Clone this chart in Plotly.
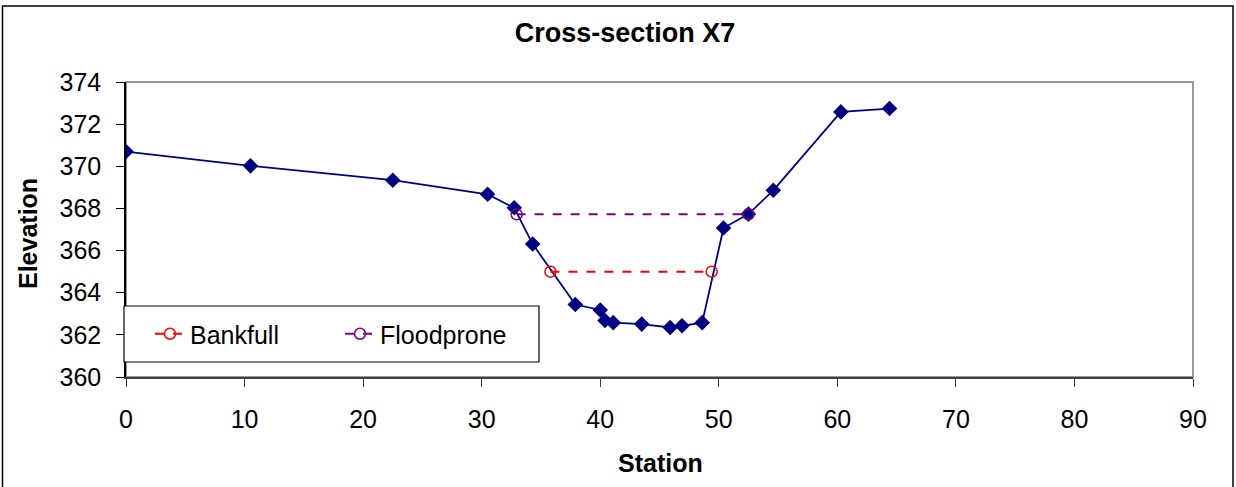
import plotly.graph_objects as go

station = [0, 10.5, 22.5, 30.5, 32.75, 34.3, 37.9, 40.0, 40.4, 41.1, 43.5, 45.9, 46.9, 48.6, 50.4, 52.5, 54.6, 60.3, 64.4]
elevation = [370.7, 370.02, 369.34, 368.67, 368.03, 366.31, 363.44, 363.18, 362.68, 362.58, 362.51, 362.35, 362.43, 362.58, 367.07, 367.73, 368.86, 372.58, 372.74]

bankfull_x = [35.8, 49.4]
bankfull_y = [365.0, 365.0]
floodprone_x = [32.95, 52.5]
floodprone_y = [367.72, 367.72]

x_ticks = [0, 10, 20, 30, 40, 50, 60, 70, 80, 90]
y_ticks = [360, 362, 364, 366, 368, 370, 372, 374]

fig = go.Figure()
fig.add_trace(go.Scatter(
    x=station, y=elevation, mode="lines+markers", showlegend=False,
    line=dict(color="#000080", width=1.8),
    marker=dict(symbol="diamond", size=12, color="#000080"),
    name="Cross-section"))
fig.add_trace(go.Scatter(
    x=bankfull_x, y=bankfull_y, mode="lines+markers", name="Bankfull",
    line=dict(color="#FF0000", width=2, dash="dash"),
    marker=dict(symbol="circle-open", size=11, color="#FF0000", line=dict(width=1.5))))
fig.add_trace(go.Scatter(
    x=floodprone_x, y=floodprone_y, mode="lines+markers", name="Floodprone",
    line=dict(color="#800080", width=2, dash="dash"),
    marker=dict(symbol="circle-open", size=11, color="#800080", line=dict(width=1.5))))

L, R, T, B = 126, 43, 82, 110
W, H = 1236, 487
pw = W - L - R
ph = H - T - B

def px_to_paper_x(px):
    return (px - L) / pw

def px_to_paper_y(py):
    return (H - B - py) / ph

fig.update_layout(
    width=W, height=H,
    margin=dict(l=L, r=R, t=T, b=B),
    paper_bgcolor="white", plot_bgcolor="white",
    font=dict(family="Arial, Liberation Sans, sans-serif", size=25, color="black"),
    title=dict(text="<b>Cross-section X7</b>", x=625 / W, xanchor="center",
               y=1 - 33 / H, yanchor="middle", font=dict(size=27)),
    legend=dict(orientation="h", x=px_to_paper_x(150), xanchor="left",
                y=px_to_paper_y(334), yanchor="middle",
                borderwidth=0, bgcolor="rgba(0,0,0,0)",
                entrywidth=145, entrywidthmode="pixels", font=dict(size=25)),
    xaxis=dict(range=[0, 90], tickvals=x_ticks, showgrid=False, zeroline=False,
               showline=True, linecolor="#404040", linewidth=2,
               ticks="outside", ticklen=8, tickcolor="#404040",
               ticklabelstandoff=11, tickfont=dict(size=25)),
    yaxis=dict(range=[360, 374], tickvals=y_ticks, showgrid=False, zeroline=False,
               showline=True, linecolor="black", linewidth=1.5,
               ticks="outside", ticklen=8, tickcolor="black",
               ticklabelstandoff=10, tickfont=dict(size=25)),
    annotations=[
        dict(text="<b>Station</b>", xref="paper", yref="paper",
             x=px_to_paper_x(660), y=px_to_paper_y(463),
             xanchor="center", yanchor="middle", showarrow=False,
             font=dict(size=25)),
        dict(text="<b>Elevation</b>", xref="paper", yref="paper",
             x=px_to_paper_x(28), y=px_to_paper_y(234),
             xanchor="center", yanchor="middle", showarrow=False,
             textangle=-90, font=dict(size=25)),
    ],
    shapes=[
        dict(type="rect", xref="paper", yref="paper", x0=0, x1=1, y0=0, y1=1,
             line=dict(color="#999999", width=2), layer="below"),
        dict(type="rect", xref="paper", yref="paper",
             x0=px_to_paper_x(124), x1=px_to_paper_x(539),
             y0=px_to_paper_y(362), y1=px_to_paper_y(306),
             line=dict(color="black", width=1.2), fillcolor="white", layer="above"),
        dict(type="rect", xref="paper", yref="paper",
             x0=px_to_paper_x(2.5), x1=px_to_paper_x(1233),
             y0=-0.5, y1=px_to_paper_y(6),
             line=dict(color="black", width=1.5)),
    ],
)

fig.write_html("out.html", config={"displayModeBar": False},
               post_script="document.body.style.margin='0px';")
